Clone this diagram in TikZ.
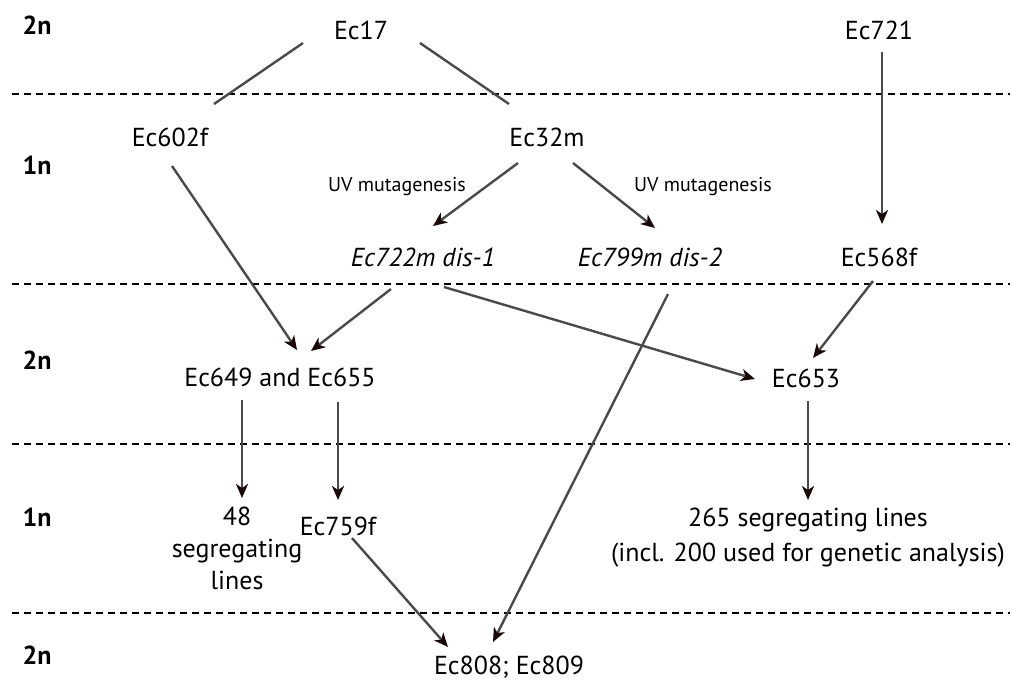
\documentclass[tikz,border=0pt]{standalone}
\usepackage{fontspec}
\setmainfont{PT Sans}
\usetikzlibrary{arrows.meta}
\definecolor{linegray}{HTML}{4A4A4A}
\definecolor{tipdark}{HTML}{1A0808}

\begin{document}
\begin{tikzpicture}
[x=1pt, y=-1pt,
 strainnode/.style={font=\fontsize{26}{32}\selectfont, inner sep=1pt, align=center},
 ploidynode/.style={font=\fontsize{26}{32}\selectfont\bfseries, inner sep=1pt},
 treatnode/.style={font=\fontsize{20}{24}\selectfont, inner sep=1pt},
 cross/.style={draw=linegray, line width=2.4pt},
 descent/.style={cross, -{Stealth[length=14pt, width=12pt, inset=4pt, color=tipdark]}},
 phase/.style={draw=black, line width=2pt, dash pattern=on 7pt off 5pt}]
\useasboundingbox (0,0) rectangle (1012,686);
% phase boundaries
\draw[phase] (12,94) -- (1010,94);
\draw[phase] (12,284) -- (1010,284);
\draw[phase] (12,444) -- (1010,444);
\draw[phase] (12,613) -- (1010,613);
% ploidy labels
\node[ploidynode] (ploidyA) at (37,25)  {2n};
\node[ploidynode] (ploidyB) at (37,165) {1n};
\node[ploidynode] (ploidyC) at (37,360) {2n};
\node[ploidynode] (ploidyD) at (37,517) {1n};
\node[ploidynode] (ploidyE) at (37,655) {2n};
% strains
\node[strainnode] (ec17)   at (361,30)  {Ec17};
\node[strainnode] (ec721)  at (879,30)  {Ec721};
\node[strainnode] (ec602f) at (170,137) {Ec602f};
\node[strainnode] (ec32m)  at (547,137) {Ec32m};
\node[treatnode]  (uvleft)  at (397,187) {UV mutagenesis};
\node[treatnode]  (uvright) at (703,187) {UV mutagenesis};
\node[strainnode] (ec722m) at (423,257) {\itshape Ec722m dis-1};
\node[strainnode] (ec799m) at (650,257) {\itshape Ec799m dis-2};
\node[strainnode] (ec568f) at (879,257) {Ec568f};
\node[strainnode] (ec649)  at (280,377) {Ec649 and Ec655};
\node[strainnode] (ec653)  at (806,378) {Ec653};
\node[strainnode] (lines48) at (237,548) {48\\segregating\\lines};
\node[strainnode] (ec759f) at (338,526) {Ec759f};
\node[strainnode, font=\fontsize{26}{35}\selectfont] (lines265) at (808,538) {265 segregating lines\\(incl. 200 used for genetic analysis)};
\node[strainnode] (ec808)  at (509,667) {Ec808; Ec809};
% crosses and descent
\draw[cross] ([shift={(-58,13)}]ec17.center) -- ([shift={(44,-33)}]ec602f.center);
\draw[cross] ([shift={(59,13)}]ec17.center) -- ([shift={(-38,-33)}]ec32m.center);
\draw[descent] ([shift={(3,22)}]ec721.center) -- ([shift={(3,-33)}]ec568f.center);
\draw[descent] ([shift={(2,29)}]ec602f.center) -- ([shift={(17,-27)}]ec649.center);
\draw[descent] ([shift={(-29,26)}]ec32m.center) -- ([shift={(10,-31)}]ec722m.center);
\draw[descent] ([shift={(26,26)}]ec32m.center) -- ([shift={(5,-29)}]ec799m.center);
\draw[descent] ([shift={(-32,32)}]ec722m.center) -- ([shift={(31,-26)}]ec649.center);
\draw[descent] ([shift={(21,30)}]ec722m.center) -- ([shift={(-51,1)}]ec653.center);
\draw[descent] ([shift={(18,37)}]ec799m.center) -- ([shift={(-16,-25)}]ec808.center);
\draw[descent] ([shift={(-6,24)}]ec568f.center) -- ([shift={(7,-20)}]ec653.center);
\draw[descent] ([shift={(-38,23)}]ec649.center) -- ([shift={(5,-50)}]lines48.center);
\draw[descent] ([shift={(58,25)}]ec649.center) -- ([shift={(0,-26)}]ec759f.center);
\draw[descent] ([shift={(2,23)}]ec653.center) -- ([shift={(0,-38)}]lines265.center);
\draw[descent] ([shift={(14,12)}]ec759f.center) -- ([shift={(-61,-20)}]ec808.center);
\end{tikzpicture}
\end{document}
